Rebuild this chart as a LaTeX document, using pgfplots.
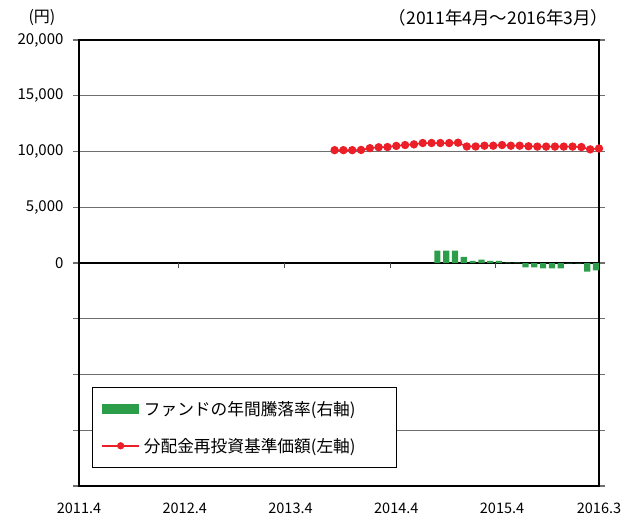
\documentclass[border=0pt]{standalone}
\usepackage{pgfplots}
\pgfplotsset{compat=1.18}
\usepackage{fontspec}
\setmainfont{Noto Sans CJK JP}
\definecolor{navred}{RGB}{236,30,40}
\definecolor{bargreen}{RGB}{44,158,74}
\definecolor{gridgray}{RGB}{110,110,110}
\begin{document}
\begin{tikzpicture}
\begin{axis}[
  scale only axis, width=520pt, height=446pt,
  xmin=0, xmax=59, ymin=-20000, ymax=20000,
  axis line style={black, line width=1.4pt},
  xtick=\empty,
  scaled y ticks=false,
  ytick={-20000,-15000,-10000,-5000,0,5000,10000,15000,20000},
  yticklabels={{},{},{},{},0,{5,000},{10,000},{15,000},{20,000}},
  ytick pos=both,
  tick align=outside, major tick length=6pt,
  tick style={gridgray, line width=1.2pt},
  ymajorgrids, grid style={gridgray, line width=1.2pt},
  yticklabel style={font=\fontsize{15}{18}\selectfont, xshift=-6pt},
  clip=false,
]
\draw[black, line width=1.8pt] (axis cs:0,0) -- (axis cs:59,0);
\draw[black!70, line width=1pt] (axis cs:11.3,0) -- ([yshift=-5pt]axis cs:11.3,0);
\draw[black!70, line width=1pt] (axis cs:23.3,0) -- ([yshift=-5pt]axis cs:23.3,0);
\draw[black!70, line width=1pt] (axis cs:35.3,0) -- ([yshift=-5pt]axis cs:35.3,0);
\draw[black!70, line width=1pt] (axis cs:47.3,0) -- ([yshift=-5pt]axis cs:47.3,0);
\addplot[navred, line width=1.5pt, mark=*, mark size=3.4pt, mark options={fill=navred, draw=navred}] coordinates {
(29,10120) (30,10120) (31,10120) (32,10140) (33,10300) (34,10380) (35,10400)
(36,10500) (37,10580) (38,10640) (39,10760) (40,10760) (41,10760) (42,10760)
(43,10790) (44,10450) (45,10450) (46,10520) (47,10520) (48,10580) (49,10520)
(50,10520) (51,10470) (52,10440) (53,10440) (54,10440) (55,10440) (56,10440)
(57,10400) (58,10190) (59,10270)
};
\end{axis}
\begin{axis}[
  scale only axis, width=520pt, height=446pt,
  xmin=0, xmax=59, ymin=-100, ymax=100,
  axis line style={draw=none},
  ytick=\empty,
  xtick={0,12,24,36,48,59},
  xticklabels={2011.4,2012.4,2013.4,2014.4,2015.4,2016.3},
  major tick length=0pt,
  xticklabel style={font=\fontsize{14.5}{17}\selectfont, yshift=-13pt},
  clip=false,
  legend style={at={(0.025,0.222)}, anchor=north west, draw=black, line width=0.8pt,
    font=\fontsize{16.7}{20}\selectfont, inner xsep=9pt, inner ysep=12pt, row sep=17pt,
    /tikz/every odd column/.append style={column sep=2pt}},
  legend cell align=left,
]
\addplot[ybar, bar width=6.2pt, bar shift=-3pt, fill=bargreen, draw=none,
  legend image code/.code={\fill[bargreen] (0pt,-5pt) rectangle (37pt,5pt);}] coordinates {
(41,5.5) (42,5.5) (43,5.6) (44,2.8) (45,1.0) (46,1.5) (47,1.0) (48,1.0) (49,0.2) (50,0.2)
(51,-2.0) (52,-2.0) (53,-2.4) (54,-2.4) (55,-2.4) (56,-0.2) (57,-0.2) (58,-3.9) (59,-3.3)
};
\addlegendentry{ファンドの年間騰落率(右軸)}
\addlegendimage{legend image code/.code={\draw[navred, line width=1.5pt] (0pt,0pt) -- (37pt,0pt); \fill[navred] (18.5pt,0pt) circle (3.2pt);}}
\addlegendentry{分配金再投資基準価額(左軸)\rule{30pt}{0pt}}
\end{axis}
\node[font=\fontsize{16}{19}\selectfont] at ([shift={(-37pt,468pt)}]current axis.south west) {(円)};
\node[font=\fontsize{17.5}{20}\selectfont, anchor=east] at ([shift={(533pt,468pt)}]current axis.south west) {（2011年4月～2016年3月）};
\pgfresetboundingbox
\path ([shift={(-79pt,-31pt)}]current axis.south west) rectangle ([shift={(544pt,486pt)}]current axis.south west);
\end{tikzpicture}
\end{document}
